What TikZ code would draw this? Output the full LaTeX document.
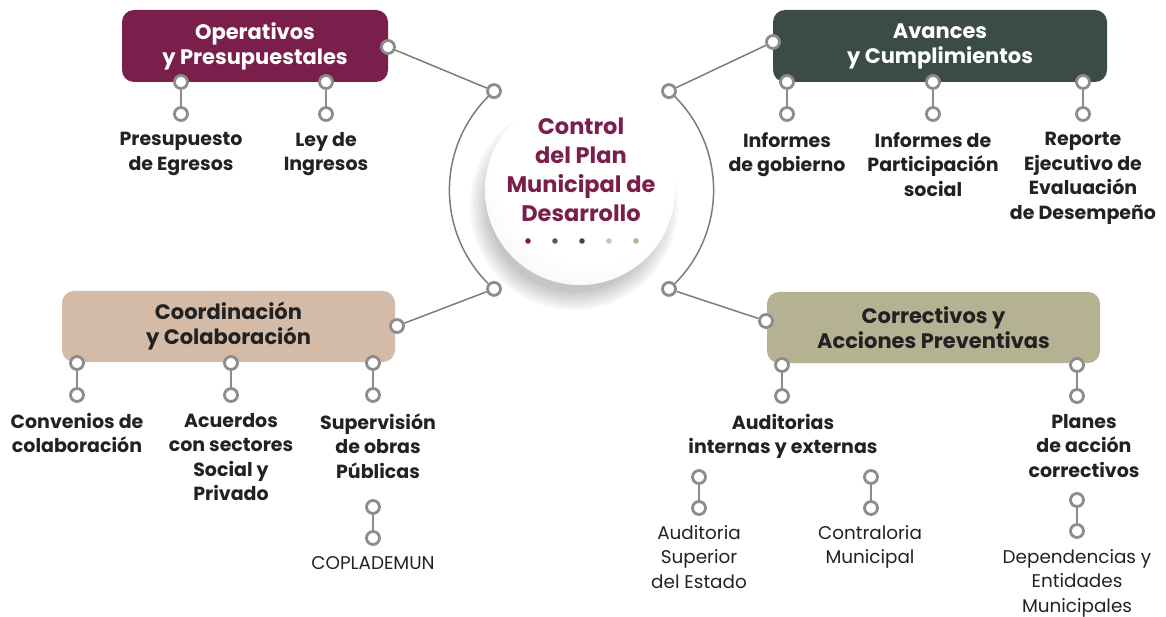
\documentclass[tikz,border=0pt]{standalone}
\usepackage{fontspec}
\setmainfont{Poppins}
\usepackage{tikz}
\usetikzlibrary{backgrounds}
\definecolor{Wine}{HTML}{7A1F4B}
\definecolor{Forest}{HTML}{3A4B48}
\definecolor{Sand}{HTML}{D4BBA8}
\definecolor{Olive}{HTML}{B5B193}
\definecolor{Slate}{HTML}{56595A}
\definecolor{Ring}{HTML}{8C8C8E}
\definecolor{Wire}{HTML}{7C7C7E}
\definecolor{Ink}{HTML}{222222}
\pgfdeclareradialshading{hubshade}{\pgfpoint{8bp}{14bp}}{color(0bp)=(white); color(26bp)=(white); color(50bp)=(black!12)}

\begin{document}
\begin{tikzpicture}[x=1pt,y=-1pt,
  catbox/.style={rounded corners=12pt,inner sep=0pt,align=center,font=\fontsize{21}{25}\selectfont\bfseries},
  ring/.style={circle,draw=Ring,line width=2.8pt,fill=white,inner sep=0pt,minimum size=13pt},
  wire/.style={Wire,line width=1.5pt},
  stem/.style={Ring,line width=2.6pt},
  item/.style={font=\fontsize{19}{24.5}\selectfont\bfseries,align=center,text=Ink,anchor=north,inner sep=0pt},
  sub/.style={font=\fontsize{18.4}{24.5}\selectfont,align=center,text=Ink,anchor=north,inner sep=0pt}
]
\useasboundingbox (0,0) rectangle (1166,617);

% hub
\node[circle,minimum size=190pt,shading=hubshade,inner sep=0pt] (hub) at (580,190) {};
\node[text=Wine,align=center,font=\fontsize{22.5}{29}\selectfont\bfseries] (hubtext) at (581,170)
  {Control\\del Plan\\Municipal de\\Desarrollo};
\fill[Wine] (528,241) circle (2.8);
\fill[Slate] (555,241) circle (2.8);
\fill[Forest] (582,241) circle (2.8);
\fill[Sand] (609,241) circle (2.8);
\fill[Olive] (636,241) circle (2.8);

\node[ring] (hubTL) at (494,91.1) {};
\node[ring] (hubTR) at (669,91.1) {};
\node[ring] (hubBL) at (494,288.9) {};
\node[ring] (hubBR) at (669,288.9) {};

% category boxes
\node[catbox,fill=Wine,text=white,minimum width=266pt,minimum height=72pt] (ops) at (255,46)
  {Operativos\\y Presupuestales};
\node[catbox,fill=Forest,text=white,minimum width=334pt,minimum height=72pt] (ava) at (940,46)
  {Avances\\y Cumplimientos};
\node[catbox,fill=Sand,text=Ink,minimum width=333pt,minimum height=71pt] (coor) at (228.5,326.5)
  {Coordinación\\y Colaboración};
\node[catbox,fill=Olive,text=Ink,minimum width=333pt,minimum height=71pt] (corr) at (933.5,327.5)
  {Correctivos y\\Acciones Preventivas};

\node[ring] (opsR) at (388,47) {};
\node[ring] (avaL) at (773,42) {};
\node[ring] (coorR) at (397,326) {};
\node[ring] (corrL) at (766,321) {};

% operativos
\node[ring] (ops1a) at (181,82) {};
\node[ring] (ops1b) at (181,114) {};
\node[ring] (ops2a) at (326,82) {};
\node[ring] (ops2b) at (326,114) {};
\node[item] (egresos) at (181,132) {Presupuesto\\de Egresos};
\node[item] (ingresos) at (326,132) {Ley de\\Ingresos};

% avances
\node[ring] (ava1a) at (787,82) {};
\node[ring] (ava1b) at (787,114) {};
\node[ring] (ava2a) at (933,82) {};
\node[ring] (ava2b) at (933,114) {};
\node[ring] (ava3a) at (1083,82) {};
\node[ring] (ava3b) at (1083,114) {};
\node[item] (gobierno) at (787,132) {Informes\\de gobierno};
\node[item] (participa) at (933,132) {Informes de\\Participación\\social};
\node[item] (reporte) at (1083,132) {Reporte\\Ejecutivo de\\Evaluación\\de Desempeño};

% coordinacion
\node[ring] (coor1a) at (77,363) {};
\node[ring] (coor1b) at (77,395) {};
\node[ring] (coor2a) at (231,363) {};
\node[ring] (coor2b) at (231,395) {};
\node[ring] (coor3a) at (373,363) {};
\node[ring] (coor3b) at (373,395) {};
\node[item] (convenios) at (77,413) {Convenios de\\colaboración};
\node[item] (acuerdos) at (231,413) {Acuerdos\\con sectores\\Social y\\Privado};
\node[item] (obras) at (378,413) {Supervisión\\de obras\\Públicas};
\node[ring] (obrasa) at (373,507) {};
\node[ring] (obrasb) at (373,538) {};
\node[sub] (coplademun) at (373,556) {COPLADEMUN};

% correctivos
\node[ring] (corr1a) at (782,365) {};
\node[ring] (corr1b) at (782,396) {};
\node[ring] (corr2a) at (1077,365) {};
\node[ring] (corr2b) at (1077,396) {};
\node[item] (auditorias) at (783,414) {Auditorias\\internas y externas};
\node[item] (planes) at (1084,414) {Planes\\de acción\\correctivos};
\node[ring] (audia) at (699,477) {};
\node[ring] (audib) at (699,508) {};
\node[ring] (contra) at (871,477) {};
\node[ring] (contrb) at (871,508) {};
\node[ring] (depa) at (1077,500) {};
\node[ring] (depb) at (1077,531) {};
\node[sub] (ase) at (699,525) {Auditoria\\Superior\\del Estado};
\node[sub] (contraloria) at (870,525) {Contraloria\\Municipal};
\node[sub] (dependencias) at (1077,549) {Dependencias y\\Entidades\\Municipales};

\begin{scope}[on background layer]
  \foreach \r in {104,101,...,86}
    \fill[black,opacity=0.035] (574,206) circle (\r);
  \draw[wire] (hubTL.center) arc[start angle=-131.5,end angle=-228.5,radius=132.2];
  \draw[wire] (hubTR.center) arc[start angle=-48.5,end angle=48.5,radius=132.2];
  \draw[wire] (opsR) -- (hubTL);
  \draw[wire] (avaL) -- (hubTR);
  \draw[wire] (coorR) -- (hubBL);
  \draw[wire] (corrL) -- (hubBR);
  \draw[stem] (ops1a) -- (ops1b);
  \draw[stem] (ops2a) -- (ops2b);
  \draw[stem] (ava1a) -- (ava1b);
  \draw[stem] (ava2a) -- (ava2b);
  \draw[stem] (ava3a) -- (ava3b);
  \draw[stem] (coor1a) -- (coor1b);
  \draw[stem] (coor2a) -- (coor2b);
  \draw[stem] (coor3a) -- (coor3b);
  \draw[stem] (obrasa) -- (obrasb);
  \draw[stem] (corr1a) -- (corr1b);
  \draw[stem] (corr2a) -- (corr2b);
  \draw[stem] (audia) -- (audib);
  \draw[stem] (contra) -- (contrb);
  \draw[stem] (depa) -- (depb);
\end{scope}
\end{tikzpicture}
\end{document}
